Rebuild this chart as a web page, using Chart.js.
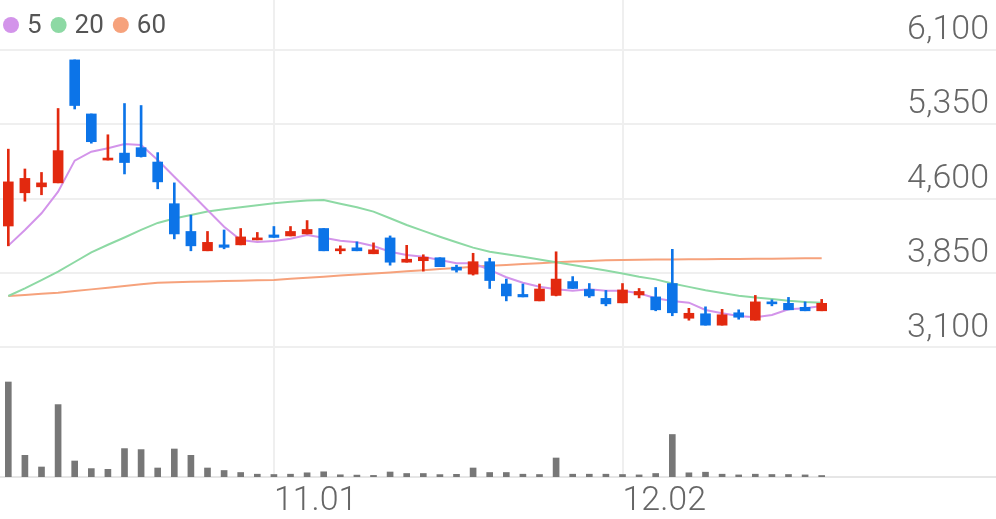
<!DOCTYPE html>
<html><head><meta charset="utf-8">
<script src="https://cdn.jsdelivr.net/npm/chart.js@4.4.0/dist/chart.umd.min.js"></script>
<style>html,body{margin:0;padding:0;background:#fff;}#wrap{width:996px;height:519px;position:relative;}</style>
</head><body><div id="wrap"><canvas id="c"></canvas></div>
<script>
const dates = ['10.10','10.11','10.14','10.15','10.16','10.17','10.18','10.21','10.22','10.23','10.24','10.25','10.28','10.29','10.30','10.31',
'11.01','11.04','11.05','11.06','11.07','11.08','11.11','11.12','11.13','11.14','11.15','11.18','11.19','11.20','11.21','11.22','11.25','11.26','11.27','11.28','11.29',
'12.02','12.03','12.04','12.05','12.06','12.09','12.10','12.11','12.12','12.13','12.16','12.17','12.18',
'','','','','','','','','',''];
const openPrices  = [4325,4660,4720,4760,6000,5455,4990,5060,5115,4970,4550,4270,4075,4135,4135,4185,4235,4225,4245,4300,4075,4105,4045,4205,3960,3975,4005,3910,3840,3965,3740,3635,3570,3625,3765,3685,3595,3550,3630,3610,3745,3395,3440,3325,3450,3375,3560,3545,3505,3470];
const highPrices  = [5100,4900,4865,5510,6000,5455,5245,5560,5540,5065,4760,4435,4270,4285,4300,4260,4320,4320,4380,4300,4125,4165,4155,4225,4130,4035,4005,3930,4050,4000,3790,3740,3740,4065,3815,3745,3675,3745,3695,3705,4090,3495,3510,3485,3480,3625,3580,3605,3560,3585];
const lowPrices   = [4125,4575,4640,4760,5505,5160,4990,4850,5020,4700,4195,4075,4075,4095,4135,4185,4210,4225,4245,4075,4045,4075,4045,3930,3960,3870,3915,3860,3830,3695,3570,3610,3570,3620,3695,3605,3520,3550,3600,3470,3420,3375,3325,3325,3385,3375,3520,3480,3470,3470];
const closePrices = [4770,4805,4760,5085,5540,5175,5005,4965,5025,4770,4245,4125,4160,4110,4215,4205,4210,4270,4290,4075,4090,4075,4085,3960,3990,4010,3915,3880,3965,3775,3620,3610,3690,3790,3695,3620,3540,3680,3665,3480,3450,3445,3325,3430,3405,3560,3540,3480,3470,3545];
const volumes = [950000,217000,100000,724000,160000,84000,77000,284000,274000,90000,280000,217000,90000,65000,45000,28000,25000,28000,42000,52000,22000,19000,16000,50000,35000,35000,24000,27000,90000,45000,45000,28000,25000,190000,28000,28000,28000,25000,21000,35000,425000,42000,48000,28000,21000,28000,25000,25000,21000,15000];
const ma5  = [4127,4285,4453,4671,4984,5074,5109,5152,5142,4991,4822,4655,4487,4318,4184,4164,4174,4197,4234,4207,4177,4161,4124,4066,4033,4016,3982,3949,3949,3882,3808,3753,3713,3687,3673,3687,3673,3673,3647,3596,3569,3552,3478,3445,3418,3405,3428,3485,3495,3518];
const ma20 = [3619,3697,3780,3864,3962,4060,4136,4209,4286,4356,4401,4436,4471,4493,4514,4535,4555,4569,4582,4587,4549,4514,4470,4403,4335,4276,4217,4161,4107,4065,4040,4015,3987,3960,3932,3903,3876,3845,3813,3787,3746,3711,3677,3650,3621,3604,3589,3572,3559,3552];
const ma60 = [3619,3629,3641,3653,3669,3686,3703,3720,3738,3753,3757,3762,3766,3770,3774,3778,3781,3792,3803,3814,3825,3836,3846,3857,3868,3879,3891,3902,3913,3924,3933,3942,3950,3959,3967,3973,3979,3983,3984,3986,3987,3989,3990,3992,3993,3995,3996,3998,3999,3999];
const priceTicks = [3100, 3850, 4600, 5350, 6100];

const UP = '#e2290f', DOWN = '#0c74e8';
const candleColors = closePrices.map((c, i) => c >= openPrices[i] ? UP : DOWN);
const bodies = openPrices.map((o, i) => [o, closePrices[i]]);
const wicks = lowPrices.map((l, i) => [l, highPrices[i]]);
const monthStarts = new Set();
dates.forEach((d, i) => { if (i > 0 && d && dates[i-1] && d.slice(0,2) !== dates[i-1].slice(0,2)) monthStarts.add(i); });

const FONT = '"Roboto Light", Roboto, "Noto Sans", sans-serif';
const LFONT = 'Roboto, "Noto Sans", sans-serif';

const maLegend = {
  id: 'maLegend',
  afterDraw(chart) {
    const ctx = chart.ctx;
    ctx.save();
    ctx.font = '26px ' + LFONT;
    ctx.textBaseline = 'middle';
    ctx.textAlign = 'left';
    let x = chart.chartArea.left + 3;
    const cy = chart.chartArea.top + 25;
    chart.data.datasets.forEach(ds => {
      if (ds.type !== 'line') return;
      ctx.fillStyle = ds.borderColor;
      ctx.beginPath(); ctx.arc(x + 8, cy, 8, 0, Math.PI * 2); ctx.fill();
      ctx.fillStyle = '#555';
      ctx.fillText(ds.label, x + 24, cy + 1);
      x += 24 + ctx.measureText(ds.label).width + 9;
    });
    ctx.restore();
  }
};

new Chart(document.getElementById('c'), {
  data: {
    labels: dates,
    datasets: [
      {type:'line', label:'5', data:ma5, borderColor:'#d394ea', backgroundColor:'#d394ea', borderWidth:2, pointRadius:0, tension:0, order:2, yAxisID:'y'},
      {type:'line', label:'20', data:ma20, borderColor:'#8dd9a4', backgroundColor:'#8dd9a4', borderWidth:2, pointRadius:0, tension:0, order:2, yAxisID:'y'},
      {type:'line', label:'60', data:ma60, borderColor:'#f6a27c', backgroundColor:'#f6a27c', borderWidth:2, pointRadius:0, tension:0, order:2, yAxisID:'y'},
      {type:'bar', label:'wick', data:wicks, backgroundColor:candleColors, barThickness:2, grouped:false, order:1, yAxisID:'y'},
      {type:'bar', label:'body', data:bodies, backgroundColor:candleColors, barThickness:10, minBarLength:2, grouped:false, order:0, yAxisID:'y'},
      {type:'bar', label:'volume', data:volumes, backgroundColor:'#777777', barThickness:6, grouped:false, order:0, yAxisID:'yv'}
    ]
  },
  plugins: [maLegend],
  options: {
    responsive:true, maintainAspectRatio:false, animation:false,
    layout:{padding:0},
    plugins:{ tooltip:{enabled:false}, legend:{display:false} },
    scales:{
      x:{
        type:'category', offset:true,
        grid:{offset:false, drawTicks:false, lineWidth:2, color:(ctx) => monthStarts.has(ctx.index) ? '#efefef' : 'rgba(0,0,0,0)'},
        border:{display:true, color:'#e6e6e6', width:2},
        ticks:{autoSkip:false, maxRotation:0, minRotation:0, align:'start', padding:3, color:'#666',
          font:{family:FONT, size:34, weight:'300'},
          callback:(v, i) => monthStarts.has(i) ? dates[i] : ''},
        afterFit:(s) => { s.paddingLeft = 0; s.paddingRight = 0; s.height = 42; }
      },
      y:{
        position:'right', min:1794, max:6604,
        afterBuildTicks:(s) => { s.ticks = priceTicks.map(v => ({value:v})); },
        grid:{color:'#efefef', lineWidth:2, drawTicks:false},
        border:{display:false},
        ticks:{mirror:true, padding:-7, labelOffset:-21, color:'#666',
          font:{family:FONT, size:34, weight:'300'},
          callback:(v) => Number(v).toLocaleString('en-US')},
        afterFit:(s) => { s.paddingTop = 0; s.paddingBottom = 0; s.width = 0; }
      },
      yv:{position:'left', display:false, min:0, max:4770000}
    }
  }
});
</script></body></html>
